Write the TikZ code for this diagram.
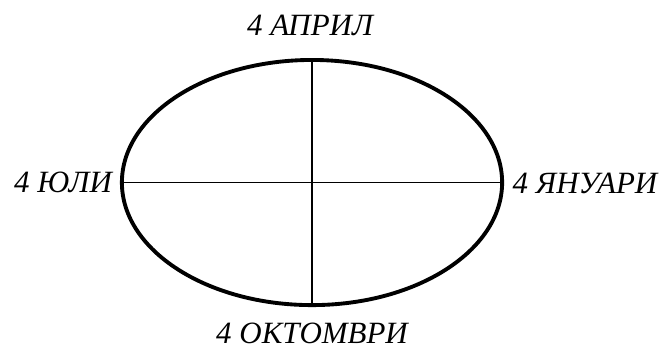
\documentclass[tikz,border=0pt]{standalone}
\usepackage{fontspec}
\setmainfont{Liberation Serif}
\usetikzlibrary{shapes.geometric, positioning}
\tikzset{
  orbit/.style={ellipse, draw=black, line width=1.1pt,
    minimum width=3.8cm, minimum height=2.45cm, inner sep=0pt},
  axis/.style={line width=0.45pt, color=black},
  datelabel/.style={font=\fontsize{8.8}{10}\selectfont\itshape, inner sep=0pt}
}
\begin{document}
\begin{tikzpicture}[x=0.01cm, y=-0.01cm]
  \useasboundingbox (0,0) rectangle (662,350);
  % Orbit
  \node[orbit] (orb) at (312,182.5) {};
  % Axes
  \draw[axis] (orb.west) -- (orb.east);
  \draw[axis] (orb.north) -- (orb.south);
  % Dates
  \node[datelabel] (apr) at (310,25) {4 АПРИЛ};
  \node[datelabel] (jul) at (63,182) {4 ЮЛИ};
  \node[datelabel] (jan) at (585,183) {4 ЯНУАРИ};
  \node[datelabel] (oct) at (312,333) {4 ОКТОМВРИ};
\end{tikzpicture}
\end{document}
